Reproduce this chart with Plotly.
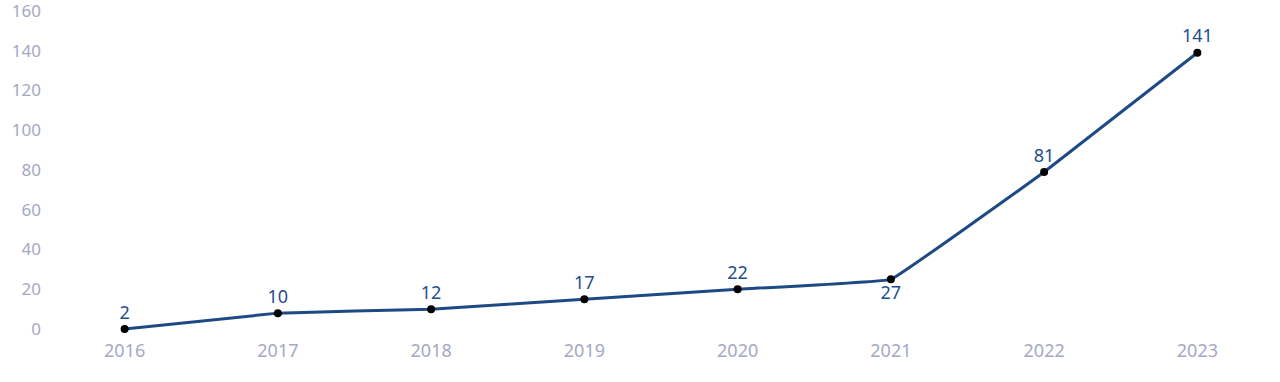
import plotly.graph_objects as go

years = ["2016", "2017", "2018", "2019", "2020", "2021", "2022", "2023"]
values = [2, 10, 12, 17, 22, 27, 81, 141]
label_positions = ["top center"] * 5 + ["bottom center"] + ["top center"] * 2
y_ticks = [0, 20, 40, 60, 80, 100, 120, 140, 160]

FONT = "Noto Sans"
AXIS_COLOR = "#a5a8c3"
LINE_COLOR = "#1d4a85"
LABEL_COLOR = "#1f4e8c"

fig = go.Figure()
fig.add_trace(go.Scatter(
    x=years,
    y=values,
    mode="lines+markers+text",
    text=[str(v) for v in values],
    textposition=label_positions,
    textfont=dict(family=FONT, size=18, color=LABEL_COLOR),
    line=dict(color=LINE_COLOR, width=3, shape="spline", smoothing=0.15),
    marker=dict(color="black", size=8),
    cliponaxis=False,
    hoverinfo="x+y",
))

fig.update_layout(
    width=1280,
    height=382,
    margin=dict(l=48, r=6, t=15, b=49, autoexpand=False),
    plot_bgcolor="white",
    paper_bgcolor="white",
    showlegend=False,
    font=dict(family=FONT, size=18, color=AXIS_COLOR),
)
fig.update_xaxes(
    type="category",
    range=[-0.5, len(years) - 0.5],
    showgrid=False,
    showline=False,
    zeroline=False,
    ticks="",
    ticklabelstandoff=5,
    automargin=False,
    tickfont=dict(family=FONT, size=18, color=AXIS_COLOR),
)
fig.update_yaxes(
    range=[0, 160],
    tickvals=y_ticks,
    showgrid=False,
    showline=False,
    zeroline=False,
    ticks="",
    ticklabelstandoff=6,
    ticklabelshift=-4,
    ticklabeloverflow="allow",
    automargin=False,
    tickfont=dict(family=FONT, size=17, color=AXIS_COLOR),
)

fig.write_html(
    "out.html",
    config={"displayModeBar": False},
    post_script="document.body.style.margin='0';document.body.style.overflow='hidden';",
)
